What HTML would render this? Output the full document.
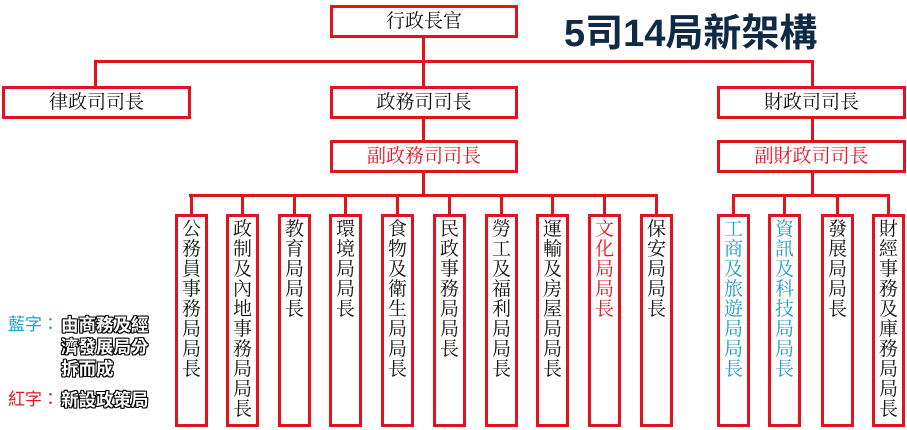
<!DOCTYPE html>
<html><head><meta charset="utf-8"><style>
body{margin:0;width:907px;height:430px;background:#fff;position:relative;overflow:hidden;font-family:"Liberation Serif","Noto Serif CJK SC",serif}
.b{position:absolute;box-sizing:border-box;border:3px solid #e0141e;background:#fff;text-align:center;font-size:19px;color:#111}
.h{height:33px;line-height:27px}
.v{top:214px;width:33px;height:213px;font-size:19px;line-height:20px;padding-top:3px;word-break:break-all;padding-left:3px;padding-right:3px}
.l{position:absolute;background:#e0141e}
.red{color:#e8141e}.blue{color:#1fa0c8}
.lg{position:absolute;font-family:"Liberation Sans","Noto Sans CJK TC",sans-serif;font-size:17.5px;font-weight:bold;color:#fff;text-shadow:-1px -1px 0 #000,1px -1px 0 #000,-1px 1px 0 #000,1px 1px 0 #000,0 1px 0 #000,1px 0 0 #000,-1px 0 0 #000,0 -1px 0 #000;line-height:22px}
</style></head><body>
<div class="l" style="left:94px;top:60px;width:720px;height:3px"></div>
<div class="l" style="left:422px;top:37px;width:3px;height:104px"></div>
<div class="l" style="left:94px;top:60px;width:3px;height:28px"></div>
<div class="l" style="left:811px;top:60px;width:3px;height:82px"></div>
<div class="l" style="left:422px;top:170px;width:3px;height:26px"></div>
<div class="l" style="left:811px;top:170px;width:3px;height:26px"></div>
<div class="l" style="left:189px;top:194px;width:469px;height:3px"></div>
<div class="l" style="left:732px;top:194px;width:158px;height:3px"></div>

<div class="b h" style="left:330px;top:5px;width:188px">行政長官</div>
<div style="position:absolute;left:564px;top:2px;font-family:'Liberation Sans','Noto Sans CJK TC',sans-serif;font-weight:bold;font-size:38px;color:#0f2a44;letter-spacing:0px">5司14局新架構</div>
<div class="b h" style="left:2px;top:86px;width:189px">律政司司長</div>
<div class="b h" style="left:330px;top:86px;width:188px">政務司司長</div>
<div class="b h" style="left:717px;top:86px;width:189px">財政司司長</div>
<div class="b h red" style="left:330px;top:140px;width:188px">副政務司司長</div>
<div class="b h red" style="left:717px;top:140px;width:189px">副財政司司長</div>

<div class="l" style="left:190px;top:194px;width:3px;height:22px"></div>
<div class="b v" style="left:175px">公務員事務局局長</div>
<div class="l" style="left:241px;top:194px;width:3px;height:22px"></div>
<div class="b v" style="left:226px">政制及內地事務局局長</div>
<div class="l" style="left:293px;top:194px;width:3px;height:22px"></div>
<div class="b v" style="left:278px">教育局局長</div>
<div class="l" style="left:344px;top:194px;width:3px;height:22px"></div>
<div class="b v" style="left:329px">環境局局長</div>
<div class="l" style="left:396px;top:194px;width:3px;height:22px"></div>
<div class="b v" style="left:381px">食物及衛生局局長</div>
<div class="l" style="left:448px;top:194px;width:3px;height:22px"></div>
<div class="b v" style="left:433px">民政事務局局長</div>
<div class="l" style="left:500px;top:194px;width:3px;height:22px"></div>
<div class="b v" style="left:485px">勞工及福利局局長</div>
<div class="l" style="left:551px;top:194px;width:3px;height:22px"></div>
<div class="b v" style="left:536px">運輸及房屋局局長</div>
<div class="l" style="left:603px;top:194px;width:3px;height:22px"></div>
<div class="b v red" style="left:588px">文化局局長</div>
<div class="l" style="left:655px;top:194px;width:3px;height:22px"></div>
<div class="b v" style="left:640px">保安局局長</div>
<div class="l" style="left:732px;top:194px;width:3px;height:22px"></div>
<div class="b v blue" style="left:717px">工商及旅遊局局長</div>
<div class="l" style="left:783px;top:194px;width:3px;height:22px"></div>
<div class="b v blue" style="left:768px">資訊及科技局局長</div>
<div class="l" style="left:836px;top:194px;width:3px;height:22px"></div>
<div class="b v" style="left:821px">發展局局長</div>
<div class="l" style="left:887px;top:194px;width:3px;height:22px"></div>
<div class="b v" style="left:872px">財經事務及庫務局局長</div>

<div style="position:absolute;left:8px;top:314px;font-family:'Liberation Sans','Noto Sans CJK TC',sans-serif;font-size:17px;color:#1fa0c8;line-height:22px">藍字：</div>
<div class="lg" style="left:61px;top:314px">由商務及經<br>濟發展局分<br>拆而成</div>
<div style="position:absolute;left:8px;top:389px;font-family:'Liberation Sans','Noto Sans CJK TC',sans-serif;font-size:17px;color:#e8141e;line-height:22px">紅字：</div>
<div class="lg" style="left:61px;top:389px">新設政策局</div>
</body></html>
